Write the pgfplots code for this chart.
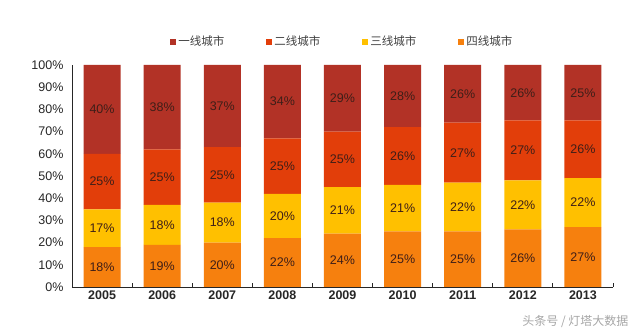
\documentclass[border=0pt]{standalone}
\usepackage{pgfplots}
\usepackage{pgfplotstable}
\pgfplotsset{compat=1.18}
\usepackage{fontspec}
\setmainfont{Liberation Sans}
\newfontfamily\cjk{Noto Sans CJK SC}
\definecolor{c1}{RGB}{178,50,38}
\definecolor{c2}{RGB}{226,62,10}
\definecolor{c3}{RGB}{255,192,0}
\definecolor{c4}{RGB}{246,128,14}
\definecolor{lab}{RGB}{62,30,24}

% shares, bottom to top: tier 4, tier 3, tier 2, tier 1
\pgfplotstableread{
x four three two one
0 18 17 25 40
1 19 18 25 38
2 20 18 25 37
3 22 20 25 33
4 24 21 25 30
5 25 21 26 28
6 25 22 27 26
7 26 22 27 25
8 27 22 26 25
}\shares

% printed labels and their vertical positions (segment middles)
\pgfplotstableread{
x y v
0 9 18
0 26.5 17
0 47.5 25
0 80 40
1 9.5 19
1 28 18
1 49.5 25
1 81 38
2 10 20
2 29 18
2 50.5 25
2 81.5 37
3 11 22
3 32 20
3 54.5 25
3 83.5 34
4 12 24
4 34.5 21
4 57.5 25
4 85 29
5 12.5 25
5 35.5 21
5 59 26
5 86 28
6 12.5 25
6 36 22
6 60.5 27
6 87 26
7 13 26
7 37 22
7 61.5 27
7 87.5 26
8 13.5 27
8 38 22
8 62 26
8 87.5 25
}\labels

\pgfplotsset{
  sq legend/.style={legend image code/.code={\fill[##1] (0pt,-3pt) rectangle (6pt,3pt);}},
}

\begin{document}
\begin{tikzpicture}
\begin{axis}[
  ybar stacked, bar width=37pt,
  scale only axis, width=541pt, height=222pt,
  xmin=-0.5, xmax=8.5, ymin=0, ymax=100,
  axis x line*=bottom, axis y line*=left,
  axis line style={-, black!85, line width=0.9pt},
  /pgf/number format/assume math mode=true,
  xtick={0,...,8},
  xticklabels={2005,2006,2007,2008,2009,2010,2011,2012,2013},
  x tick label style={font=\bfseries\fontsize{12.5}{14}\selectfont, text=black!85},
  major x tick style={draw=none},
  extra x ticks={0.5,1.5,2.5,3.5,4.5,5.5,6.5,7.5,8.5},
  extra x tick labels={},
  extra x tick style={tick align=inside, major tick length=4pt, major x tick style={draw=black!85, line width=0.8pt}},
  ytick={0,10,...,100},
  yticklabel={\pgfmathprintnumber{\tick}\%},
  y tick label style={font=\fontsize{12.5}{14}\selectfont, text=black!85, xshift=-5pt},
  major y tick style={draw=none},
  legend columns=4,
  reverse legend,
  legend style={at={(0.5,1.105)}, anchor=center, draw=none, fill=none,
    font=\cjk\fontsize{11.5}{13}\selectfont, text=black!75,
    /tikz/every even column/.append style={column sep=40pt}},
]
\addplot[fill=c4, draw=none, sq legend] table[x=x, y=four] {\shares};
\addlegendentry{四线城市}
\addplot[fill=c3, draw=none, sq legend] table[x=x, y=three] {\shares};
\addlegendentry{三线城市}
\addplot[fill=c2, draw=none, sq legend] table[x=x, y=two] {\shares};
\addlegendentry{二线城市}
\addplot[fill=c1, draw=none, sq legend] table[x=x, y=one] {\shares};
\addlegendentry{一线城市}
\end{axis}
\begin{axis}[
  scale only axis, width=541pt, height=222pt,
  xmin=-0.5, xmax=8.5, ymin=0, ymax=100,
  hide axis,
]
\addplot[draw=none, mark=none, nodes near coords={\pgfplotspointmeta\%},
  point meta=explicit symbolic,
  every node near coord/.append style={anchor=center, text=lab, font=\fontsize{12.5}{14}\selectfont}]
  table[x=x, y=y, meta=v] {\labels};
\end{axis}
\node[anchor=east, font=\cjk\fontsize{12}{14}\selectfont, text=black!35] at (560pt,-35pt) {头条号 / 灯塔大数据};
\pgfresetboundingbox
\path[use as bounding box] (-72pt,-45pt) rectangle (568pt,287pt);
\end{tikzpicture}
\end{document}
